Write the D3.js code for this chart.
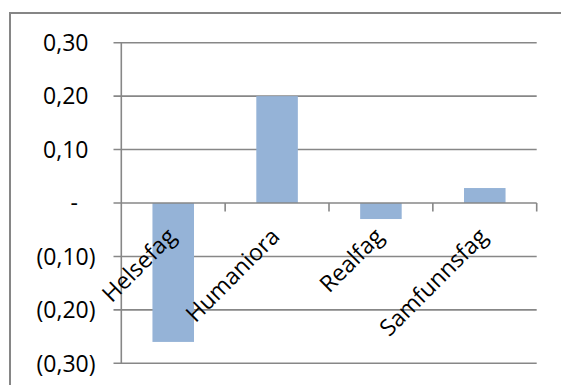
<!DOCTYPE html>
<html>
<head>
<meta charset="utf-8">
<script src="https://cdn.jsdelivr.net/npm/d3@7"></script>
<style>
  html, body { margin: 0; padding: 0; background: #fff; }
  svg { display: block; }
  text { font-family: "Open Sans", "Noto Sans", sans-serif; fill: #000; }
</style>
</head>
<body>
<svg id="chart" width="561" height="385"></svg>
<script>
// Subject areas and their values
const categories = ["Helsefag", "Humaniora", "Realfag", "Samfunnsfag"];
const values = [-0.26, 0.20, -0.03, 0.028];
const yTicks = [-0.3, -0.2, -0.1, 0, 0.1, 0.2, 0.3];
const yTickLabels = ["(0,30)", "(0,20)", "(0,10)", "-", "0,10", "0,20", "0,30"];

const svg = d3.select("#chart");
const gridColor = "#878787";

// Outer chart frame (right and bottom edges fall outside the view)
svg.append("rect")
  .attr("x", 10).attr("y", 13)
  .attr("width", 600).attr("height", 420)
  .attr("fill", "none")
  .attr("stroke", "#868686")
  .attr("stroke-width", 2);

const x = d3.scaleBand()
  .domain(categories)
  .range([121.3, 536.7])
  .paddingInner(0.6)
  .paddingOuter(0.3);

const xEdge = d3.scaleLinear().domain([0, categories.length]).range([121.3, 536.7]);

const y = d3.scaleLinear()
  .domain([-0.3, 0.3])
  .range([363.3, 42.7]);

// Horizontal gridlines with short left ticks
svg.append("g")
  .selectAll("line")
  .data(yTicks.filter(d => d !== 0))
  .join("line")
  .attr("x1", 113.5).attr("x2", 536.7)
  .attr("y1", d => y(d)).attr("y2", d => y(d))
  .attr("stroke", gridColor)
  .attr("stroke-width", 1.6);

// Y tick labels (accounting style: positives leave room for the closing parenthesis)
svg.append("g")
  .selectAll("text")
  .data(yTicks)
  .join("text")
  .attr("x", (d) => d < 0 ? 95.5 : d === 0 ? 78 : 88.5)
  .attr("y", d => y(d))
  .attr("dy", "0.36em")
  .attr("text-anchor", "end")
  .style("font-size", "23px")
  .text((d, i) => yTickLabels[i]);

// Bars
svg.append("g")
  .selectAll("rect")
  .data(values)
  .join("rect")
  .attr("x", (d, i) => x(categories[i]))
  .attr("width", x.bandwidth())
  .attr("y", d => y(Math.max(0, d)))
  .attr("height", d => Math.abs(y(d) - y(0)))
  .attr("fill", "#95B3D7");

// Vertical value axis
svg.append("line")
  .attr("x1", 121.3).attr("x2", 121.3)
  .attr("y1", y(0.3)).attr("y2", y(-0.3))
  .attr("stroke", gridColor)
  .attr("stroke-width", 1.6);

// Category axis at zero with downward ticks at category boundaries
svg.append("line")
  .attr("x1", 113.5).attr("x2", 536.7)
  .attr("y1", y(0)).attr("y2", y(0))
  .attr("stroke", gridColor)
  .attr("stroke-width", 1.6);

svg.append("g")
  .selectAll("line")
  .data(d3.range(1, categories.length + 1))
  .join("line")
  .attr("x1", d => xEdge(d)).attr("x2", d => xEdge(d))
  .attr("y1", y(0)).attr("y2", y(0) + 8.5)
  .attr("stroke", gridColor)
  .attr("stroke-width", 1.6);

// Rotated category labels
svg.append("g")
  .selectAll("text")
  .data(categories)
  .join("text")
  .attr("transform", d => `translate(${x(d) + x.bandwidth() / 2 + 4},238) rotate(-45)`)
  .attr("text-anchor", "end")
  .style("font-size", "23px")
  .text(d => d);
</script>
</body>
</html>
